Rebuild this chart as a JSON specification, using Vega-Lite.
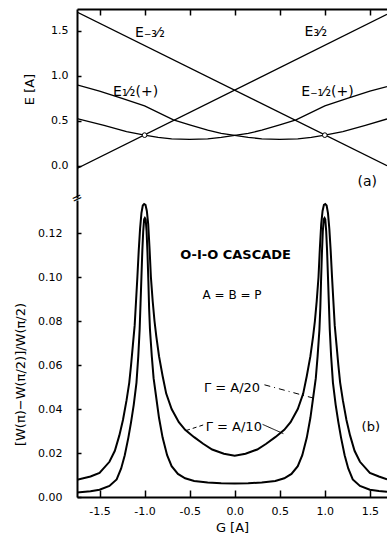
{
  "$schema": "https://vega.github.io/schema/vega-lite/v6.json",
  "padding": {"left": 14, "top": 8, "right": 0, "bottom": 0},
  "spacing": 2,
  "bounds": "flush",
  "config": {
    "view": {"stroke": null},
    "font": "DejaVu Sans",
    "axis": {"grid": false, "domainColor": "black", "tickColor": "black", "labelColor": "black", "titleColor": "black", "domainWidth": 2, "tickWidth": 1.5, "labelFontSize": 11, "titleFontWeight": "normal"}
  },
  "datasets": {
    "levels": [
      {"series": "m32", "G": -1.75, "E": 1.71}, {"series": "m32", "G": 1.69, "E": 0.0},
      {"series": "p32", "G": -1.75, "E": -0.03}, {"series": "p32", "G": 1.69, "E": 1.685},
      {"series": "p12", "G": -1.75, "E": 0.90}, {"series": "p12", "G": -1.5, "E": 0.83}, {"series": "p12", "G": -1.25, "E": 0.75},
      {"series": "p12", "G": -1.0, "E": 0.665}, {"series": "p12", "G": -0.68, "E": 0.51}, {"series": "p12", "G": -0.5, "E": 0.455},
      {"series": "p12", "G": -0.3, "E": 0.395}, {"series": "p12", "G": -0.15, "E": 0.36}, {"series": "p12", "G": 0.0, "E": 0.337},
      {"series": "p12", "G": 0.15, "E": 0.315}, {"series": "p12", "G": 0.3, "E": 0.299}, {"series": "p12", "G": 0.5, "E": 0.292},
      {"series": "p12", "G": 0.7, "E": 0.299}, {"series": "p12", "G": 0.85, "E": 0.315}, {"series": "p12", "G": 1.0, "E": 0.34},
      {"series": "p12", "G": 1.2, "E": 0.38}, {"series": "p12", "G": 1.45, "E": 0.45}, {"series": "p12", "G": 1.69, "E": 0.52},
      {"series": "m12", "G": -1.75, "E": 0.525}, {"series": "m12", "G": -1.45, "E": 0.45}, {"series": "m12", "G": -1.2, "E": 0.38},
      {"series": "m12", "G": -1.0, "E": 0.34}, {"series": "m12", "G": -0.85, "E": 0.315}, {"series": "m12", "G": -0.7, "E": 0.299},
      {"series": "m12", "G": -0.5, "E": 0.292}, {"series": "m12", "G": -0.3, "E": 0.299}, {"series": "m12", "G": -0.15, "E": 0.315},
      {"series": "m12", "G": 0.0, "E": 0.337}, {"series": "m12", "G": 0.15, "E": 0.36}, {"series": "m12", "G": 0.3, "E": 0.395},
      {"series": "m12", "G": 0.5, "E": 0.455}, {"series": "m12", "G": 0.68, "E": 0.51}, {"series": "m12", "G": 1.0, "E": 0.665},
      {"series": "m12", "G": 1.25, "E": 0.75}, {"series": "m12", "G": 1.5, "E": 0.83}, {"series": "m12", "G": 1.69, "E": 0.88}
    ],
    "crossings": [
      {"G": -1.0, "E": 0.34}, {"G": 1.0, "E": 0.34}
    ],
    "toplabels": [
      {"G": -0.94, "E": 1.48, "label": "E₋₃⁄₂"},
      {"G": 0.9, "E": 1.49, "label": "E₃⁄₂"},
      {"G": -1.1, "E": 0.82, "label": "E₁⁄₂(+)"},
      {"G": 1.03, "E": 0.82, "label": "E₋₁⁄₂(+)"},
      {"G": 1.47, "E": -0.18, "label": "(a)"}
    ],
    "brk": [{"G": -1.75, "E": -0.36, "label": "="}],
    "cascade": [
      {"curve": "A/10", "G": -1.75, "W": 0.0078}, {"curve": "A/10", "G": -1.6, "W": 0.0093}, {"curve": "A/10", "G": -1.5, "W": 0.011},
      {"curve": "A/10", "G": -1.39, "W": 0.016}, {"curve": "A/10", "G": -1.33, "W": 0.021}, {"curve": "A/10", "G": -1.28, "W": 0.028},
      {"curve": "A/10", "G": -1.24, "W": 0.035}, {"curve": "A/10", "G": -1.2, "W": 0.044}, {"curve": "A/10", "G": -1.17, "W": 0.052},
      {"curve": "A/10", "G": -1.15, "W": 0.06}, {"curve": "A/10", "G": -1.13, "W": 0.069}, {"curve": "A/10", "G": -1.11, "W": 0.078},
      {"curve": "A/10", "G": -1.095, "W": 0.089}, {"curve": "A/10", "G": -1.08, "W": 0.1}, {"curve": "A/10", "G": -1.065, "W": 0.112},
      {"curve": "A/10", "G": -1.05, "W": 0.122}, {"curve": "A/10", "G": -1.035, "W": 0.129}, {"curve": "A/10", "G": -1.02, "W": 0.1325},
      {"curve": "A/10", "G": -1.005, "W": 0.1332}, {"curve": "A/10", "G": -0.99, "W": 0.1328}, {"curve": "A/10", "G": -0.975, "W": 0.13},
      {"curve": "A/10", "G": -0.96, "W": 0.124}, {"curve": "A/10", "G": -0.945, "W": 0.113}, {"curve": "A/10", "G": -0.93, "W": 0.1},
      {"curve": "A/10", "G": -0.91, "W": 0.089}, {"curve": "A/10", "G": -0.89, "W": 0.08}, {"curve": "A/10", "G": -0.87, "W": 0.073},
      {"curve": "A/10", "G": -0.84, "W": 0.064}, {"curve": "A/10", "G": -0.8, "W": 0.055}, {"curve": "A/10", "G": -0.76, "W": 0.047},
      {"curve": "A/10", "G": -0.7, "W": 0.04}, {"curve": "A/10", "G": -0.62, "W": 0.034}, {"curve": "A/10", "G": -0.55, "W": 0.0305},
      {"curve": "A/10", "G": -0.45, "W": 0.0272}, {"curve": "A/10", "G": -0.35, "W": 0.0242}, {"curve": "A/10", "G": -0.25, "W": 0.0216},
      {"curve": "A/10", "G": -0.12, "W": 0.0197}, {"curve": "A/10", "G": 0.0, "W": 0.0188}, {"curve": "A/10", "G": 0.12, "W": 0.0197},
      {"curve": "A/10", "G": 0.25, "W": 0.0216}, {"curve": "A/10", "G": 0.35, "W": 0.0242}, {"curve": "A/10", "G": 0.45, "W": 0.0272},
      {"curve": "A/10", "G": 0.55, "W": 0.0305}, {"curve": "A/10", "G": 0.62, "W": 0.034}, {"curve": "A/10", "G": 0.7, "W": 0.04},
      {"curve": "A/10", "G": 0.76, "W": 0.047}, {"curve": "A/10", "G": 0.8, "W": 0.055}, {"curve": "A/10", "G": 0.84, "W": 0.064},
      {"curve": "A/10", "G": 0.87, "W": 0.073}, {"curve": "A/10", "G": 0.89, "W": 0.08}, {"curve": "A/10", "G": 0.91, "W": 0.089},
      {"curve": "A/10", "G": 0.93, "W": 0.1}, {"curve": "A/10", "G": 0.945, "W": 0.113}, {"curve": "A/10", "G": 0.96, "W": 0.124},
      {"curve": "A/10", "G": 0.975, "W": 0.13}, {"curve": "A/10", "G": 0.99, "W": 0.1328}, {"curve": "A/10", "G": 1.005, "W": 0.1332},
      {"curve": "A/10", "G": 1.02, "W": 0.1325}, {"curve": "A/10", "G": 1.035, "W": 0.129}, {"curve": "A/10", "G": 1.05, "W": 0.122},
      {"curve": "A/10", "G": 1.065, "W": 0.112}, {"curve": "A/10", "G": 1.08, "W": 0.1}, {"curve": "A/10", "G": 1.095, "W": 0.089},
      {"curve": "A/10", "G": 1.11, "W": 0.078}, {"curve": "A/10", "G": 1.13, "W": 0.069}, {"curve": "A/10", "G": 1.15, "W": 0.06},
      {"curve": "A/10", "G": 1.17, "W": 0.052}, {"curve": "A/10", "G": 1.2, "W": 0.044}, {"curve": "A/10", "G": 1.24, "W": 0.035},
      {"curve": "A/10", "G": 1.28, "W": 0.028}, {"curve": "A/10", "G": 1.33, "W": 0.021}, {"curve": "A/10", "G": 1.39, "W": 0.016},
      {"curve": "A/10", "G": 1.5, "W": 0.011}, {"curve": "A/10", "G": 1.6, "W": 0.0093}, {"curve": "A/10", "G": 1.69, "W": 0.008},

      {"curve": "A/20", "G": -1.75, "W": 0.002}, {"curve": "A/20", "G": -1.6, "W": 0.0026}, {"curve": "A/20", "G": -1.5, "W": 0.0033},
      {"curve": "A/20", "G": -1.39, "W": 0.005}, {"curve": "A/20", "G": -1.31, "W": 0.008}, {"curve": "A/20", "G": -1.26, "W": 0.013},
      {"curve": "A/20", "G": -1.22, "W": 0.019}, {"curve": "A/20", "G": -1.18, "W": 0.027}, {"curve": "A/20", "G": -1.15, "W": 0.034},
      {"curve": "A/20", "G": -1.12, "W": 0.042}, {"curve": "A/20", "G": -1.09, "W": 0.052}, {"curve": "A/20", "G": -1.07, "W": 0.064},
      {"curve": "A/20", "G": -1.055, "W": 0.076}, {"curve": "A/20", "G": -1.045, "W": 0.088}, {"curve": "A/20", "G": -1.035, "W": 0.1},
      {"curve": "A/20", "G": -1.025, "W": 0.112}, {"curve": "A/20", "G": -1.015, "W": 0.121}, {"curve": "A/20", "G": -1.005, "W": 0.1262},
      {"curve": "A/20", "G": -0.997, "W": 0.1268}, {"curve": "A/20", "G": -0.988, "W": 0.1262}, {"curve": "A/20", "G": -0.978, "W": 0.121},
      {"curve": "A/20", "G": -0.968, "W": 0.111}, {"curve": "A/20", "G": -0.958, "W": 0.098}, {"curve": "A/20", "G": -0.95, "W": 0.086},
      {"curve": "A/20", "G": -0.94, "W": 0.076}, {"curve": "A/20", "G": -0.92, "W": 0.064}, {"curve": "A/20", "G": -0.9, "W": 0.054},
      {"curve": "A/20", "G": -0.87, "W": 0.045}, {"curve": "A/20", "G": -0.84, "W": 0.036}, {"curve": "A/20", "G": -0.8, "W": 0.027},
      {"curve": "A/20", "G": -0.75, "W": 0.019}, {"curve": "A/20", "G": -0.7, "W": 0.014}, {"curve": "A/20", "G": -0.63, "W": 0.0105},
      {"curve": "A/20", "G": -0.55, "W": 0.0085}, {"curve": "A/20", "G": -0.45, "W": 0.0073}, {"curve": "A/20", "G": -0.3, "W": 0.0066},
      {"curve": "A/20", "G": -0.15, "W": 0.0062}, {"curve": "A/20", "G": 0.0, "W": 0.0061}, {"curve": "A/20", "G": 0.15, "W": 0.0062},
      {"curve": "A/20", "G": 0.3, "W": 0.0066}, {"curve": "A/20", "G": 0.45, "W": 0.0073}, {"curve": "A/20", "G": 0.55, "W": 0.0085},
      {"curve": "A/20", "G": 0.63, "W": 0.0105}, {"curve": "A/20", "G": 0.7, "W": 0.014}, {"curve": "A/20", "G": 0.75, "W": 0.019},
      {"curve": "A/20", "G": 0.8, "W": 0.027}, {"curve": "A/20", "G": 0.84, "W": 0.036}, {"curve": "A/20", "G": 0.87, "W": 0.045},
      {"curve": "A/20", "G": 0.9, "W": 0.054}, {"curve": "A/20", "G": 0.92, "W": 0.064}, {"curve": "A/20", "G": 0.94, "W": 0.076},
      {"curve": "A/20", "G": 0.95, "W": 0.086}, {"curve": "A/20", "G": 0.958, "W": 0.098}, {"curve": "A/20", "G": 0.968, "W": 0.111},
      {"curve": "A/20", "G": 0.978, "W": 0.121}, {"curve": "A/20", "G": 0.988, "W": 0.1262}, {"curve": "A/20", "G": 0.997, "W": 0.1268},
      {"curve": "A/20", "G": 1.005, "W": 0.1262}, {"curve": "A/20", "G": 1.015, "W": 0.121}, {"curve": "A/20", "G": 1.025, "W": 0.112},
      {"curve": "A/20", "G": 1.035, "W": 0.1}, {"curve": "A/20", "G": 1.045, "W": 0.088}, {"curve": "A/20", "G": 1.055, "W": 0.076},
      {"curve": "A/20", "G": 1.07, "W": 0.064}, {"curve": "A/20", "G": 1.09, "W": 0.052}, {"curve": "A/20", "G": 1.12, "W": 0.042},
      {"curve": "A/20", "G": 1.15, "W": 0.034}, {"curve": "A/20", "G": 1.18, "W": 0.027}, {"curve": "A/20", "G": 1.22, "W": 0.019},
      {"curve": "A/20", "G": 1.26, "W": 0.013}, {"curve": "A/20", "G": 1.31, "W": 0.008}, {"curve": "A/20", "G": 1.39, "W": 0.005},
      {"curve": "A/20", "G": 1.5, "W": 0.0033}, {"curve": "A/20", "G": 1.6, "W": 0.0027}, {"curve": "A/20", "G": 1.69, "W": 0.0024}
    ],
    "leaders": [
      {"seg": "A/20", "G": 0.33, "W": 0.051}, {"seg": "A/20", "G": 0.87, "W": 0.045},
      {"seg": "A/10 left", "G": -0.33, "W": 0.033}, {"seg": "A/10 left", "G": -0.54, "W": 0.0302},
      {"seg": "A/10 right", "G": 0.31, "W": 0.033}, {"seg": "A/10 right", "G": 0.54, "W": 0.0288}
    ],
    "notes": [
      {"G": 0.01, "W": 0.11, "label": "O-I-O CASCADE"},
      {"G": -0.03, "W": 0.092, "label": "A = B = P"},
      {"G": -0.03, "W": 0.0497, "label": "Γ = A/20"},
      {"G": -0.01, "W": 0.032, "label": "Γ = A/10"},
      {"G": 1.51, "W": 0.032, "label": "(b)"}
    ]
  },
  "vconcat": [
    {
      "width": 310,
      "height": 189,
      "encoding": {
        "x": {"field": "G", "type": "quantitative", "scale": {"domain": [-1.75, 1.69], "nice": false, "zero": false},
          "axis": {"orient": "top", "labels": false, "title": null, "tickSize": -6, "values": [-1.5, -1, -0.5, 0, 0.5, 1, 1.5]}},
        "y": {"field": "E", "type": "quantitative", "scale": {"domain": [-0.36, 1.745], "nice": false, "zero": false},
          "axis": {"title": "E [A]", "values": [0, 0.5, 1, 1.5], "format": ".1f", "tickSize": -4, "labelPadding": 13, "titleX": -41, "titleY": 80, "titleFontSize": 13}}
      },
      "layer": [
        {"data": {"name": "levels"}, "mark": {"type": "line", "color": "black", "strokeWidth": 1.3, "clip": true},
          "encoding": {"detail": {"field": "series"}}},
        {"data": {"name": "crossings"}, "mark": {"type": "point", "shape": "circle", "filled": true, "fill": "white", "stroke": "black", "strokeWidth": 1, "size": 22, "opacity": 1}},
        {"data": {"name": "toplabels"}, "mark": {"type": "text", "fontSize": 14, "align": "center", "baseline": "middle", "color": "black"},
          "encoding": {"text": {"field": "label"}}},
        {"data": {"name": "brk"}, "mark": {"type": "text", "fontSize": 13, "align": "center", "baseline": "middle", "angle": -25, "color": "black"},
          "encoding": {"text": {"field": "label"}}}
      ]
    },
    {
      "width": 310,
      "height": 297,
      "encoding": {
        "x": {"field": "G", "type": "quantitative", "scale": {"domain": [-1.75, 1.69], "nice": false, "zero": false},
          "axis": {"title": "G [A]", "values": [-1.5, -1, -0.5, 0, 0.5, 1, 1.5], "format": ".1f", "labelExpr": "replace(datum.label, '−', '-')", "tickSize": -7, "labelPadding": 15, "titlePadding": 5, "titleFontSize": 13}},
        "y": {"field": "W", "type": "quantitative", "scale": {"domain": [0, 0.135], "nice": false},
          "axis": {"title": "[W(π)−W(π/2)]/W(π/2)", "values": [0, 0.02, 0.04, 0.06, 0.08, 0.1, 0.12], "format": ".2f", "tickSize": -4, "labelPadding": 19, "titleX": -50, "titleY": 174, "titleFontSize": 13}}
      },
      "layer": [
        {"data": {"name": "cascade"}, "mark": {"type": "line", "color": "black", "strokeWidth": 2, "clip": true},
          "encoding": {"detail": {"field": "curve"}}},
        {"data": {"name": "leaders"}, "mark": {"type": "line", "color": "black", "strokeWidth": 1},
          "encoding": {"strokeDash": {"field": "seg", "type": "nominal", "legend": null,
            "scale": {"domain": ["A/20", "A/10 left", "A/10 right"], "range": [[6, 4, 1, 4], [4, 3], [1, 0]]}}}},
        {"data": {"name": "notes"}, "transform": [{"filter": "datum.label == 'O-I-O CASCADE'"}],
          "mark": {"type": "text", "fontSize": 13, "fontWeight": "bold", "align": "center", "baseline": "middle", "color": "black"},
          "encoding": {"text": {"field": "label"}}},
        {"data": {"name": "notes"}, "transform": [{"filter": "datum.label == 'A = B = P'"}],
          "mark": {"type": "text", "fontSize": 12, "align": "center", "baseline": "middle", "color": "black"},
          "encoding": {"text": {"field": "label"}}},
        {"data": {"name": "notes"}, "transform": [{"filter": "datum.label != 'O-I-O CASCADE' && datum.label != 'A = B = P'"}],
          "mark": {"type": "text", "fontSize": 13, "align": "center", "baseline": "middle", "color": "black"},
          "encoding": {"text": {"field": "label"}}}
      ]
    }
  ]
}
